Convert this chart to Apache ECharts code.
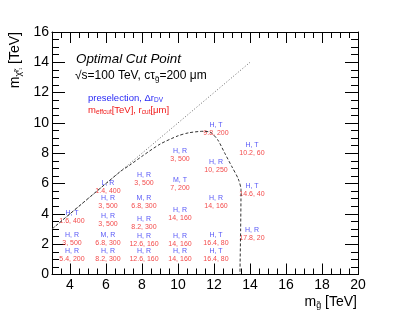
<!DOCTYPE html>
<html><head><meta charset="utf-8">
<script src="https://cdn.jsdelivr.net/npm/echarts@6/dist/echarts.min.js"></script>
<style>html,body{margin:0;padding:0;background:#fff}#c{width:399px;height:316px}</style>
</head><body><div id="c"></div>
<script>
// ---- data ----
const xTicks = [4, 6, 8, 10, 12, 14, 16, 18, 20];
const yTicks = [0, 2, 4, 6, 8, 10, 12, 14, 16];
const gluinoMass = [4, 4, 4, 6, 6, 6, 6, 6, 8, 8, 8, 8, 8, 10, 10, 10, 10, 10, 12, 12, 12, 12, 12, 14, 14, 14];
const neutralinoMass = [1.0, 2.1, 3.5, 1.0, 2.1, 3.35, 4.5, 5.5, 1.0, 2.0, 3.1, 4.5, 6.05, 1.0, 2.0, 3.7, 5.7, 7.6, 1.0, 2.1, 4.5, 6.9, 9.3, 2.4, 5.3, 8.0];
const preselection = ["H, R","H, R","H, T","H, R","M, R","H, R","H, R","L, R","H, R","H, R","H, R","M, R","H, R","H, R","H, R","H, R","M, T","H, R","H, T","H, T","H, R","H, R","H, T","H, R","H, T","H, T"];
const cutValues = ["5.4, 200","3, 500","1.6, 400","8.2, 300","6.8, 300","3, 500","3, 500","1.4, 400","12.6, 160","12.6, 160","8.2, 300","6.8, 300","3, 500","14, 160","14, 160","14, 160","7, 200","3, 500","16.4, 80","16.4, 80","14, 160","10, 250","9.8, 200","17.8, 20","14.6, 40","10.2, 60"];
const diagonalX = [3, 14];
const contourX = [3, 6.8, 7.3, 8, 9, 10, 10.6, 11.4, 11.8, 12.2, 12.6, 13, 13.35, 13.5, 13.48, 13.44];
const contourY = [3, 6.8, 7.2, 7.8, 8.6, 9.15, 9.35, 9.45, 9.38, 8.9, 8.0, 7.1, 6.3, 5.6, 3, 0];

const FONT = '"Liberation Sans", Arial, Helvetica, sans-serif';
const BLUE = '#2a2af5', RED = '#f01818';

const points = gluinoMass.map((x, i) => [x, neutralinoMass[i], preselection[i], cutValues[i]]);
const diag = diagonalX.map(v => [v, v]);
const contour = contourX.map((x, i) => [x, contourY[i]]);

const chart = echarts.init(document.getElementById('c'), null, {renderer: 'canvas'});
const axisLine = {show: true, lineStyle: {color: '#000', width: 1}};
const noSplit = {show: false};
const xBase = {type: 'value', min: 3, max: 20, splitLine: noSplit};
const yBase = {type: 'value', min: 0, max: 16, interval: 2, splitLine: noSplit};

const option = {
  animation: false,
  grid: {left: 52, right: 41, top: 32, bottom: 41.5, containLabel: false},
  xAxis: [
    Object.assign({}, xBase, {position: 'bottom', axisLine: axisLine,
      axisTick: {show: true, inside: true, length: 11, customValues: xTicks, lineStyle: {color: '#000'}},
      axisLabel: {show: true, customValues: xTicks, margin: 4, fontSize: 14, fontFamily: FONT, color: '#000'}}),
    Object.assign({}, xBase, {position: 'bottom', interval: 0.5, axisLine: {show: false},
      axisTick: {show: true, inside: true, length: 6, lineStyle: {color: '#000'}}, axisLabel: {show: false}}),
    Object.assign({}, xBase, {position: 'top', axisLine: axisLine,
      axisTick: {show: true, inside: true, length: 11, customValues: xTicks, lineStyle: {color: '#000'}},
      axisLabel: {show: false}}),
    Object.assign({}, xBase, {position: 'top', interval: 0.5, axisLine: {show: false},
      axisTick: {show: true, inside: true, length: 6, lineStyle: {color: '#000'}}, axisLabel: {show: false}})
  ],
  yAxis: [
    Object.assign({}, yBase, {position: 'left', axisLine: axisLine,
      axisTick: {show: true, inside: true, length: 13, lineStyle: {color: '#000'}},
      minorTick: {show: true, splitNumber: 4, length: 7, lineStyle: {color: '#000'}},
      axisLabel: {show: true, margin: 3, fontSize: 14, fontFamily: FONT, color: '#000',
        formatter: v => yTicks.indexOf(v) >= 0 ? String(v) : ''}}),
    Object.assign({}, yBase, {position: 'right', axisLine: axisLine,
      axisTick: {show: true, inside: true, length: 13, lineStyle: {color: '#000'}},
      minorTick: {show: true, splitNumber: 4, length: 7, lineStyle: {color: '#000'}},
      axisLabel: {show: false}})
  ],
  series: [
    {type: 'line', data: diag, xAxisIndex: 0, yAxisIndex: 0, symbol: 'none', silent: true,
      lineStyle: {color: '#666', width: 1, type: [1, 2]}},
    {type: 'line', data: contour, xAxisIndex: 0, yAxisIndex: 0, symbol: 'none', silent: true, smooth: 0.25,
      lineStyle: {color: '#333', width: 1, type: [3, 2]}},
    {type: 'scatter', data: points, xAxisIndex: 0, yAxisIndex: 0, symbolSize: 0.1,
      itemStyle: {color: 'rgba(0,0,0,0)'}, silent: true,
      label: {show: true, position: 'inside', offset: [2, -4], fontFamily: FONT,
        formatter: p => '{b|' + p.data[2] + '}\n{r|' + p.data[3] + '}',
        rich: {b: {color: BLUE, fontSize: 7, lineHeight: 8, fontFamily: FONT},
               r: {color: RED, fontSize: 7, lineHeight: 8, fontFamily: FONT}}}}
  ],
  graphic: [
    {type: 'text', x: 76, y: 59, silent: true, style: {text: 'Optimal Cut Point', fill: '#000',
      font: 'italic 13.4px ' + FONT, verticalAlign: 'middle', align: 'left'}},
    {type: 'text', x: 75, y: 76, silent: true, style: {
      text: '√s=100 TeV, cτ{s|g̃}=200 μm', fill: '#000', fontSize: 12, fontFamily: FONT,
      verticalAlign: 'middle', align: 'left', lineHeight: 14,
      rich: {s: {fontSize: 8, fontFamily: FONT, lineHeight: 8, padding: [6, 0, 0, 0], fill: '#000'}}}},
    {type: 'text', x: 88, y: 98, silent: true, style: {
      text: 'preselection, Δr{s|DV}', fill: BLUE, fontSize: 9.5, fontFamily: FONT,
      verticalAlign: 'middle', align: 'left', lineHeight: 11,
      rich: {s: {fontSize: 6.5, fontFamily: FONT, lineHeight: 7, padding: [4, 0, 0, 0], fill: BLUE}}}},
    {type: 'text', x: 88, y: 110, silent: true, style: {
      text: 'm{s|effcut}[TeV], r{s|cut}[μm]', fill: RED, fontSize: 9.5, fontFamily: FONT,
      verticalAlign: 'middle', align: 'left', lineHeight: 11,
      rich: {s: {fontSize: 6.5, fontFamily: FONT, lineHeight: 7, padding: [4, 0, 0, 0], fill: RED}}}},
    {type: 'text', x: 15, y: 32, rotation: Math.PI / 2, silent: true, style: {
      text: 'm{s|χ̃}{t|⁰₁} [TeV]', fill: '#000', fontSize: 14, fontFamily: FONT,
      verticalAlign: 'middle', align: 'right', lineHeight: 16,
      rich: {s: {fontSize: 9, fontFamily: FONT, lineHeight: 9, padding: [7, 0, 0, 0], fill: '#000'},
             t: {fontSize: 6, fontFamily: FONT, lineHeight: 6, padding: [8, 0, 0, 0], fill: '#000'}}}},
    {type: 'text', x: 357, y: 302, silent: true, style: {
      text: 'm{s|g̃} [TeV]', fill: '#000', fontSize: 14, fontFamily: FONT,
      verticalAlign: 'middle', align: 'right', lineHeight: 16,
      rich: {s: {fontSize: 9, fontFamily: FONT, lineHeight: 9, padding: [7, 0, 0, 0], fill: '#000'}}}}
  ]
};
chart.setOption(option);
</script></body></html>
